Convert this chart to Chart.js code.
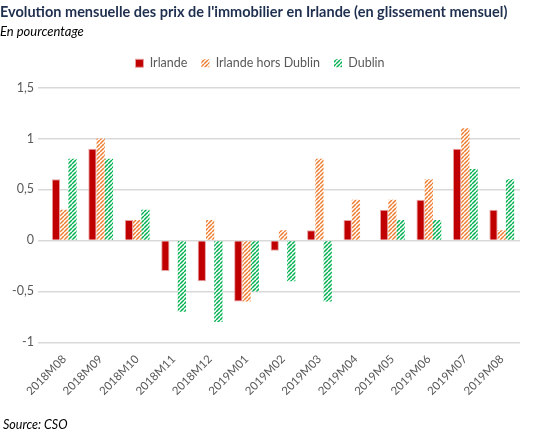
<!DOCTYPE html>
<html>
<head>
<meta charset="utf-8">
<script src="https://cdn.jsdelivr.net/npm/chart.js@4"></script>
<style>
  html,body{margin:0;padding:0;background:#fff;}
  #wrap{position:relative;width:540px;height:434px;}
  #source{position:absolute;left:3px;top:417px;font:italic 12.5px Lato,"Open Sans",sans-serif;color:#000;}
</style>
</head>
<body>
<div id="wrap">
  <canvas id="c" width="540" height="434"></canvas>
  <div id="source">Source: CSO</div>
</div>
<script>
// données (glissement mensuel, %)
const months = ["2018M08","2018M09","2018M10","2018M11","2018M12","2019M01","2019M02","2019M03","2019M04","2019M05","2019M06","2019M07","2019M08"];
const irlande = [0.6, 0.9, 0.2, -0.3, -0.4, -0.6, -0.1, 0.1, 0.2, 0.3, 0.4, 0.9, 0.3];
const horsDublin = [0.3, 1.0, 0.2, 0, 0.2, -0.6, 0.1, 0.8, 0.4, 0.4, 0.6, 1.1, 0.1];
const dublin = [0.8, 0.8, 0.3, -0.7, -0.8, -0.5, -0.4, -0.6, 0, 0.2, 0.2, 0.7, 0.6];
const yTicks = [-1, -0.5, 0, 0.5, 1, 1.5];

// motif hachuré "///"
function hatch(color){
  const s = 4, cv = document.createElement("canvas");
  cv.width = s; cv.height = s;
  const x = cv.getContext("2d");
  x.fillStyle = "#fff"; x.fillRect(0,0,s,s);
  x.strokeStyle = color; x.lineWidth = 1.5;
  x.beginPath();
  for (let k = -1; k <= 1; k++) { x.moveTo(k*s, s); x.lineTo(k*s + s, 0); }
  x.stroke();
  return x.createPattern(cv, "repeat");
}

// espace supplémentaire sous la légende
const legendGap = {
  id:"legendGap",
  beforeInit(chart){
    const fit = chart.legend.fit;
    chart.legend.fit = function(){ fit.bind(chart.legend)(); this.height += 8; };
  }
};

const FONT = "Lato, 'Open Sans', sans-serif";
Chart.defaults.font.family = FONT;
Chart.defaults.color = "#595959";

new Chart(document.getElementById("c"), {
  type: "bar",
  data: {
    labels: months,
    datasets: [
      {label:"Irlande", data:irlande, backgroundColor:"#c00000", borderColor:"#e8a0a0", borderWidth:1},
      {label:"Irlande hors Dublin", data:horsDublin, backgroundColor:hatch("#ed7d31"), borderWidth:0},
      {label:"Dublin", data:dublin, backgroundColor:hatch("#00b050"), borderWidth:0}
    ]
  },
  plugins:[legendGap],
  options: {
    responsive:false, animation:false,
    layout:{padding:{left:0, right:20, bottom:34, top:0}},
    datasets:{bar:{categoryPercentage:0.68, barPercentage:1}},
    plugins:{
      title:{display:true, text:"Evolution mensuelle des prix de l'immobilier en Irlande (en glissement mensuel)", align:"start", color:"#1f2f4f", font:{size:14.5, weight:"bold"}, padding:{top:4, bottom:2}},
      subtitle:{display:true, text:"En pourcentage", align:"start", color:"#000", font:{size:13, style:"italic"}, padding:{top:1, bottom:3}},
      legend:{position:"top", labels:{boxWidth:8, boxHeight:8, padding:14, font:{size:12.5}, color:"#595959"}},
      tooltip:{enabled:false}
    },
    scales:{
      x:{grid:{display:false}, border:{display:false},
         afterFit:s=>{s.paddingLeft = 0;},
         ticks:{minRotation:45, maxRotation:45, padding:2, font:{size:11.5}, color:"#595959"}},
      y:{min:-1, max:1.5, border:{display:false}, grid:{color:"#d9d9d9", lineWidth:1.5},
         afterFit:s=>{s.width = 46;},
         afterBuildTicks:a=>{a.ticks = yTicks.map(v=>({value:v}));},
         ticks:{font:{size:12.5}, color:"#595959", padding:4, callback:v=>String(v).replace(".", ",")}}
    }
  }
});
</script>
</body>
</html>
